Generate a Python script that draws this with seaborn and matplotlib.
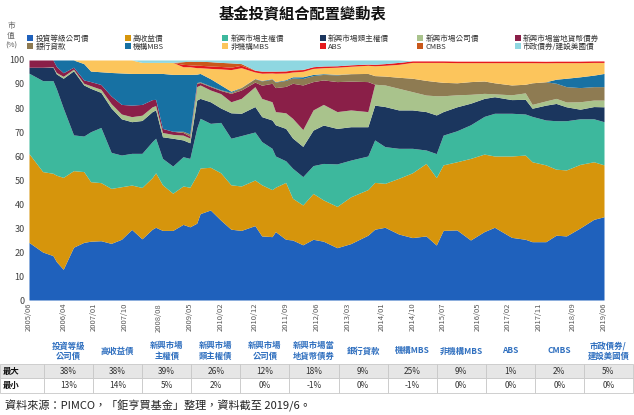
import matplotlib
matplotlib.use("Agg")
import matplotlib.pyplot as plt
from matplotlib.patches import Patch
import seaborn as sns
import pandas as pd

# sample dates (month)
dates = ["2005/06", "2005/10", "2006/01", "2006/02", "2006/04", "2006/07", "2006/10", "2006/12",
         "2007/03", "2007/06", "2007/09", "2007/12", "2008/03", "2008/06", "2008/07", "2008/09",
         "2008/12", "2009/03", "2009/05", "2009/07", "2009/08", "2009/11", "2010/02", "2010/05",
         "2010/08", "2010/12", "2011/02", "2011/05", "2011/06", "2011/09", "2011/11", "2012/02",
         "2012/05", "2012/08", "2012/12", "2013/04", "2013/09", "2013/11", "2014/02", "2014/06",
         "2014/10", "2015/02", "2015/05", "2015/07", "2015/11", "2016/03", "2016/07", "2016/10",
         "2017/03", "2017/07", "2017/09", "2018/01", "2018/04", "2018/07", "2018/11", "2019/03",
         "2019/06"]

# allocation (% of market value) per sector
ig_corp = [24, 20, 18.5, 16, 12.8, 22, 24, 24.5, 24.7, 23.6,
           25.3, 29.4, 25.5, 29.5, 30.3, 29, 29, 31.5, 30.5, 32,
           36, 37.5, 33.3, 29.5, 29, 31, 26.7, 26.4, 28.5, 25.3,
           25, 23, 25.3, 24.5, 21.8, 23.5, 27, 29.5, 30.3, 27.5,
           26, 26.7, 22.9, 29, 29.2, 25, 28.5, 30.3, 26.1, 25.3,
           24.3, 24.3, 27, 26.7, 30, 33.6, 34.7]
high_yield = [37, 33.5, 34.3, 36, 38.3, 31.9, 29.5, 24.8, 24.2, 22.9,
              21.9, 18.5, 21.4, 21.5, 22.7, 19, 15.5, 16, 16.5, 20,
              19, 17.8, 19.7, 18.5, 18.5, 19, 21.3, 19.6, 18.5, 23.7,
              17.4, 16.6, 19.1, 17.2, 17.2, 19.5, 19, 19.5, 18.3, 23.2,
              27, 30.2, 28.1, 27.3, 28.4, 34, 32.3, 29.7, 33.9, 35.1,
              33.3, 32, 27.5, 27.5, 26.5, 24, 21.6]
em_sov = [33.5, 37.9, 38.6, 36, 28.9, 14.9, 14.8, 20.8, 23, 15,
          13.2, 13.2, 14.2, 15, 14.4, 11, 11.3, 12.2, 12, 19.5,
          20.7, 18.3, 21, 19.4, 21, 20, 18, 17.2, 13, 9,
          12.5, 11.8, 11.6, 15.2, 17.7, 15.3, 14, 17.7, 15.3, 12.5,
          10.2, 5.6, 10, 12.4, 12.9, 14, 15.7, 17.8, 17.8, 17.1,
          18.9, 18.7, 20.2, 20.5, 19, 17.9, 18]
em_quasi = [2.5, 5.6, 5.6, 6.2, 12.4, 26.7, 21.3, 18.1, 14.6, 18.5,
            15.1, 13.2, 13.7, 12.5, 11.8, 9, 11.6, 7, 6.5, 11.8,
            8.3, 9, 6, 10.6, 9.3, 10.6, 10.4, 11.8, 13, 13.5,
            12.6, 12.6, 14.8, 16, 14.8, 13.9, 12.2, 14.5, 16.7, 16,
            16, 16, 16.1, 9.8, 10, 9, 7.5, 6.9, 5.7, 6.1,
            3.4, 6.2, 7.2, 5.8, 4, 5.1, 6.2]
em_corp = [0, 0, 0.2, 0.6, 0.8, 0.7, 0.7, 1.1, 1.3, 1.8,
           2, 2.1, 2.2, 2, 1.8, 1.8, 1.6, 2, 2, 5.6,
           5.6, 4.9, 6, 4.6, 6.2, 8.3, 7.6, 7.6, 5.5, 6.5,
           8.2, 7, 8.4, 8.6, 7, 7, 6.3, 8.7, 9, 9,
           7.6, 6.9, 8, 6.6, 5, 3.7, 2.1, 1.2, 2, 2.7,
           1.6, 1.75, 2.1, 2, 3.1, 2.7, 2.8]
em_local = [3, 3, 2.8, 2.5, 1.5, 0.8, 1.4, 1.7, 2, 3.2,
            4, 4.8, 4.5, 3, 2.6, 1.7, 1.3, 1.1, 0.8, 1.4,
            1, 1.4, 1.3, 3.5, 3.5, 1.9, 5.5, 7.7, 10, 11,
            14.6, 18.6, 11.8, 10.2, 12.5, 12, 12.5, 0, 0, 0,
            0, 0, 0, 0, 0, 0, 0, 0, 0, 0,
            0, 0, 0, 0, 0, 0, 0]
bank_loans = [0, 0, 0, 0, 0, 0, 0, 0, 0, 0,
              0, 0, 0, 0, 0, 0, 0, 0.5, 0.9, 0.3,
              0.3, 0.3, 0.3, 0.4, 1, 1.4, 1.8, 1.7, 2.3, 2.5,
              2.2, 2.7, 2.5, 2.3, 2.8, 3.1, 3.4, 3.6, 3.7, 4.6,
              5.6, 6.1, 5.9, 5.6, 5, 5.3, 5.15, 4.6, 4.1, 3.6,
              9, 8, 6.3, 6.4, 5.9, 5.6, 5.6]
agency_mbs = [0, 0, 0, 2.7, 5.3, 3, 6.8, 4.4, 5.3, 9.8,
              13.1, 13.2, 12.9, 10.9, 10.8, 22.9, 23.7, 23.7, 24.8, 3.5,
              3.5, 3, 2, 0.5, 0.1, 0.1, 0.2, 0.2, 0.2, 0.3,
              0.5, 0.7, 0.5, 0.3, 0.2, 0, 0, 0, 0, 0,
              0, 0, 0, 0, 0, 0, 0, 0, 0, 0,
              0, 0, 1.7, 3.5, 4.5, 4.8, 5.5]
non_agency_mbs = [0, 0, 0, 0, 0, 0, 1.5, 4.6, 4.9, 5.2,
                  5.4, 5.6, 4.6, 4.6, 4.6, 4.6, 5, 3.2, 3.2, 2.7,
                  2.4, 4.3, 6.7, 9, 8.2, 2.7, 3, 2.4, 3.5, 2.8,
                  2, 2.3, 2.5, 2.5, 3, 3.1, 3.4, 4.1, 4.5, 5.4,
                  6.6, 7.5, 8, 8.3, 8.4, 7.9, 7.65, 8.4, 9.3, 9,
                  8.4, 7.9, 6.9, 6.5, 5.9, 5.3, 4.6]
abs_ = [0, 0, 0, 0, 0, 0, 0, 0, 0, 0,
        0, 0, 0, 0, 0, 0, 0, 1, 0.8, 1,
        1, 1, 1, 1, 1, 0.7, 0.8, 0.7, 0.8, 0.8,
        0.8, 0.7, 0.7, 0.7, 0.6, 0.6, 0.5, 0.6, 0.7, 0.8,
        0.6, 0.6, 0.6, 0.6, 0.6, 0.6, 0.6, 0.6, 0.6, 0.6,
        0.6, 0.6, 0.6, 0.6, 0.6, 0.6, 0.6]
cmbs = [0, 0, 0, 0, 0, 0, 0, 0, 0, 0,
        0, 0, 0, 0, 0, 0, 0, 1.1, 1.5, 1.6,
        1.7, 1.8, 1.7, 1.8, 0.7, 0.1, 0.1, 0.1, 0.1, 0.1,
        0.1, 0.1, 0, 0, 0, 0, 0, 0, 0, 0,
        0, 0, 0, 0, 0, 0, 0, 0, 0, 0,
        0, 0, 0, 0, 0, 0, 0]
muni = [0, 0, 0, 0, 0, 0, 0, 0, 0, 0,
        0, 0, 1, 1, 1, 1, 1, 0.7, 0.5, 0.6,
        0.5, 0.7, 1, 1.2, 1.5, 4.2, 4.6, 4.6, 4.6, 4.5,
        4.1, 3.9, 2.8, 2.5, 2.4, 2, 1.7, 1.8, 1.5, 1,
        0, 0, 0, 0, 0, 0, 0, 0, 0, 0,
        0, 0, 0, 0, 0, 0, 0]

series_names = ["投資等級公司債", "高收益債", "新興市場主權債", "新興市場類主權債",
                "新興市場公司債", "新興市場當地貨幣債券", "銀行貸款", "機構MBS",
                "非機構MBS", "ABS", "CMBS", "市政債券/建設美國債"]
series_colors = ["#1f61bc", "#d6950c", "#3db89d", "#1b365e", "#a9c38c", "#8a1f48",
                 "#8e7b52", "#1771a3", "#fcc55c", "#e5191d", "#c9581b", "#8fd7e1"]

tick_labels = ["2005/06", "2006/04", "2007/01", "2007/10", "2008/08", "2009/05", "2010/02",
               "2010/12", "2011/09", "2012/06", "2013/03", "2014/01", "2014/10", "2015/07",
               "2016/05", "2017/02", "2017/11", "2018/09", "2019/06"]

table_headers = ["投資等級\n公司債", "高收益債", "新興市場\n主權債", "新興市場\n類主權債",
                 "新興市場\n公司債", "新興市場當\n地貨幣債券", "銀行貸款", "機構MBS",
                 "非機構MBS", "ABS", "CMBS", "市政債券/\n建設美國債"]
max_share = ["38%", "38%", "39%", "26%", "12%", "18%", "9%", "25%", "9%", "1%", "2%", "5%"]
min_share = ["13%", "14%", "5%", "2%", "0%", "-1%", "0%", "-1%", "0%", "0%", "0%", "0%"]


def month_index(s):
    y, m = s.split("/")
    return (int(y) - 2005) * 12 + int(m) - 6


values = [ig_corp, high_yield, em_sov, em_quasi, em_corp, em_local,
          bank_loans, agency_mbs, non_agency_mbs, abs_, cmbs, muni]
df = pd.DataFrame(dict(zip(series_names, values)))
df["month"] = [month_index(d) for d in dates]

sns.set_theme(style="white")
plt.rcParams["font.family"] = ["Noto Sans CJK TC", "DejaVu Sans"]

W, H = 634, 415
fig = plt.figure(figsize=(W / 100, H / 100), dpi=100)
fig.patch.set_facecolor("white")

ax = fig.add_axes([29 / W, 1 - 300 / H, 575 / W, 240 / H])
ax.stackplot(df["month"], [df[n] for n in series_names], colors=series_colors,
             linewidth=0)
ax.set_xlim(0, 168)
ax.set_ylim(0, 100)
ax.set_yticks(range(0, 101, 10))
ax.tick_params(axis="y", labelsize=6.5, colors="#404040", length=0, pad=3)
ax.set_xticks([month_index(t) for t in tick_labels])
ax.set_xticklabels(tick_labels, rotation=90, fontsize=5.5, color="#595959")
ax.tick_params(axis="x", length=0, pad=2)
ax.grid(False)
sns.despine(ax=ax, left=True, bottom=True)

# title and axis caption
fig.text(0.477, 1 - 14 / H, "基金投資組合配置變動表", ha="center", va="center",
         fontsize=11, fontweight="bold", color="#111111")
fig.text(11 / W, 1 - 22 / H, "市\n值\n(%)", ha="center", va="top", fontsize=5.5,
         color="#595959", linespacing=1.3)

# legend: 6 evenly spaced columns, two rows
handles = [Patch(facecolor=c, edgecolor="none") for c in series_colors]
for i in range(6):
    leg = fig.legend([handles[i], handles[i + 6]], [series_names[i], series_names[i + 6]],
                     loc="upper left", bbox_to_anchor=((27 + i * 97.5) / W, 1 - 35 / H),
                     frameon=False, fontsize=5.5, handlelength=0.8, handleheight=0.8,
                     handletextpad=0.3, labelspacing=0.0, borderpad=0, borderaxespad=0)
    for t in leg.get_texts():
        t.set_color("#333333")

# summary table
tax = fig.add_axes([0, 1 - 393 / H, 633 / W, 55 / H])
tax.axis("off")
cell_text = [["最大"] + max_share, ["最小"] + min_share]
col_widths = [44 / 633] + [49.08 / 633] * 12
tbl = tax.table(cellText=cell_text, colLabels=[""] + table_headers, colWidths=col_widths,
                cellLoc="center", bbox=[0, 0, 1, 1])
tbl.auto_set_font_size(False)
for (r, c), cell in tbl.get_celld().items():
    txt = cell.get_text()
    if r == 0:
        cell.visible_edges = "open"
        cell.set_height(24)
        txt.set_color("#2f6fbf")
        txt.set_fontweight("bold")
        txt.set_fontsize(6)
        txt.set_linespacing(1.15)
    else:
        cell.set_height(13.5)
        cell.set_edgecolor("#c8c8c8")
        cell.set_linewidth(0.6)
        cell.set_facecolor("#e6e6e6" if r == 1 else "white")
        txt.set_fontsize(6)
        txt.set_color("#333333")
        if c == 0:
            txt.set_ha("left")
            txt.set_fontweight("bold")
            txt.set_color("#111111")
            cell.set_text_props(ha="left")
            cell.PAD = 0.06

fig.text(5 / W, 1 - 406 / H, "資料來源：PIMCO，「鉅亨買基金」整理，資料截至 2019/6。",
         ha="left", va="center", fontsize=8, color="#222222")

fig.savefig("out.png", dpi=100, facecolor="white")
plt.close(fig)
